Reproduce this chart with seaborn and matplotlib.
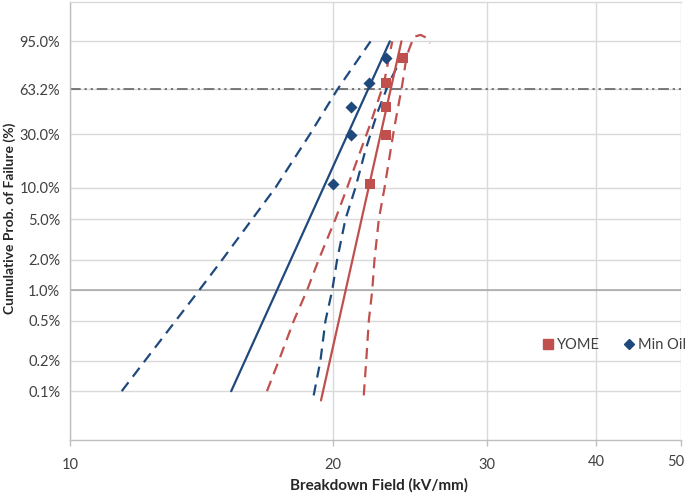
import numpy as np
import pandas as pd
import matplotlib
matplotlib.use("Agg")
import matplotlib.pyplot as plt
import seaborn as sns
from matplotlib.lines import Line2D
from matplotlib.transforms import ScaledTranslation

# ---------------- data ----------------
rank_pct = [10.8, 29.4, 48.7, 68.5, 87.1]
yome_x = [22.05, 23.0, 23.0, 23.0, 24.03]
minoil_x = [20.0, 20.99, 20.99, 21.99, 23.0]

minoil_fit_x = [15.29, 23.22]
minoil_fit_p = [0.1, 95.0]
minoil_lo_x = [11.46, 12.18, 13.21, 14.05, 14.93, 16.16, 17.18, 18.81, 20.23, 22.07]
minoil_lo_p = [0.1, 0.2, 0.5, 1.0, 2.0, 5.0, 10.0, 30.0, 63.2, 95.0]
minoil_hi_x = [19.00, 19.34, 19.60, 19.95, 20.21, 20.66, 21.21, 21.78, 22.46, 23.16, 23.78, 24.41]
minoil_hi_p = [0.0907, 0.2, 0.5, 1.0, 2.0, 5.0, 10.0, 22.1, 43.9, 68.3, 83.7, 91.1]

yome_fit_x = [19.37, 23.94]
yome_fit_p = [0.081, 95.0]
yome_lo_x = [16.80, 17.33, 18.03, 18.67, 19.25, 20.12, 20.75, 22.07, 22.86, 23.37]
yome_lo_p = [0.1, 0.2, 0.5, 1.0, 2.0, 5.0, 10.0, 36.8, 68.3, 95.0]
yome_hi_x = [21.68, 21.82, 21.97, 22.17, 22.30, 22.56, 22.90, 23.47, 23.99, 24.20, 24.41,
             24.74, 25.18, 25.63, 25.80]
yome_hi_p = [0.0907, 0.2, 0.5, 1.0, 2.0, 5.0, 10.0, 32.6, 66.8, 83.7, 91.4,
             96.4, 96.9, 96.0, 94.3]

ytick_vals = [0.1, 0.2, 0.5, 1.0, 2.0, 5.0, 10.0, 30.0, 63.2, 95.0]
ytick_labels = ["0.1%", "0.2%", "0.5%", "1.0%", "2.0%", "5.0%", "10.0%", "30.0%", "63.2%", "95.0%"]
xtick_vals = [10, 20, 30, 40, 50]
xtick_labels = ["10", "20", "30", "40", "50"]

BLUE = "#1F497D"
RED = "#C0504D"

# ---------------- style ----------------
sns.set_style("white")
plt.rcParams["font.family"] = ["Lato", "DejaVu Sans"]

fig = plt.figure(figsize=(6.85, 4.93), dpi=100)
ax = fig.add_axes([70 / 685, 1 - 440 / 493, 611 / 685, 438 / 493])


def fwd(p):
    p = np.clip(np.asarray(p, dtype=float), 1e-9, 100 - 1e-9)
    return np.log(-np.log(1 - p / 100.0))


def inv(w):
    w = np.asarray(w, dtype=float)
    return 100.0 * (1 - np.exp(-np.exp(w)))


ax.set_xscale("log")
ax.set_yscale("function", functions=(fwd, inv))
ax.set_xlim(10, 50)
ax.set_ylim(inv(-8.025), inv(1.998))

dash = (0, (5, 3.2))
lw = 1.6


def draw(xs, ps, color, ls):
    df = pd.DataFrame({"x": xs, "p": ps})
    sns.lineplot(data=df, x="x", y="p", ax=ax, color=color, linewidth=lw,
                 linestyle=ls, sort=False, estimator=None, zorder=3)


draw(minoil_lo_x, minoil_lo_p, BLUE, dash)
draw(minoil_fit_x, minoil_fit_p, BLUE, "-")
draw(minoil_hi_x, minoil_hi_p, BLUE, dash)
draw(yome_lo_x, yome_lo_p, RED, dash)
draw(yome_fit_x, yome_fit_p, RED, "-")
draw(yome_hi_x, yome_hi_p, RED, dash)

pts_y = pd.DataFrame({"x": yome_x, "p": rank_pct})
pts_m = pd.DataFrame({"x": minoil_x, "p": rank_pct})
sns.scatterplot(data=pts_y, x="x", y="p", ax=ax, marker="s", s=62, color=RED,
                edgecolor=RED, linewidth=0, zorder=4)
sns.scatterplot(data=pts_m, x="x", y="p", ax=ax, marker="D", s=38, color=BLUE,
                edgecolor=BLUE, linewidth=0, zorder=4)

# reference lines
ax.axhline(63.2, color="#595959", lw=1.1, ls=(0, (7, 2.5, 1.5, 2.5, 1.5, 2.5)), zorder=2)
ax.axhline(1.0, color="#A6A6A6", lw=1.1, zorder=1)

# ticks / grid
ax.set_yticks(ytick_vals)
ax.set_yticklabels(ytick_labels)
ax.set_xticks(xtick_vals)
ax.set_xticklabels(xtick_labels)
ax.xaxis.set_minor_locator(matplotlib.ticker.NullLocator())
ax.yaxis.set_minor_locator(matplotlib.ticker.NullLocator())
ax.grid(True, color="#D9D9D9", lw=1.0, zorder=0)
ax.set_axisbelow(True)
ax.tick_params(axis="y", length=0, pad=7, labelsize=10.5, labelcolor="#404040")
ax.tick_params(axis="x", length=4, width=1, color="#BFBFBF", pad=9, labelsize=10.5,
               labelcolor="#404040", direction="out", bottom=True)

for side in ["left", "bottom", "top"]:
    ax.spines[side].set_color("#BFBFBF")
    ax.spines[side].set_linewidth(1.0)
ax.spines["right"].set_visible(False)
ax.spines["top"].set_color("#D9D9D9")

ax.set_xlabel("Breakdown Field (kV/mm)", fontsize=11, fontweight="bold",
              color="#262626")
ax.xaxis.set_label_coords(0.505, -0.088)
ax.set_ylabel("Cumulative Prob. of Failure (%)", fontsize=10, fontweight="bold",
              color="#262626")
ax.yaxis.set_label_coords(-0.088, 0.505)

handles = [
    Line2D([], [], marker="s", color=RED, linestyle="none", markersize=7.5),
    Line2D([], [], marker="D", color=BLUE, linestyle="none", markersize=5),
]
ax.legend(handles, ["YOME", "Min Oil"], loc="center left", bbox_to_anchor=(0.752, 0.217),
          frameon=False, ncol=2, handlelength=0.8, handletextpad=0.2,
          columnspacing=1.6, fontsize=10.5, labelcolor="#404040")

# nudge the "40" and "50" labels up slightly (as in the reference) and keep "50" inside
ticks = ax.xaxis.get_major_ticks()
for i, tk in enumerate(ticks):
    dx = -4 / 72 if i == 4 else 0
    dy = 2.5 / 72 if i >= 3 else 0
    if dx or dy:
        tk.label1.set_transform(tk.label1.get_transform() +
                                ScaledTranslation(dx, dy, fig.dpi_scale_trans))

fig.savefig("out.png", dpi=100)
